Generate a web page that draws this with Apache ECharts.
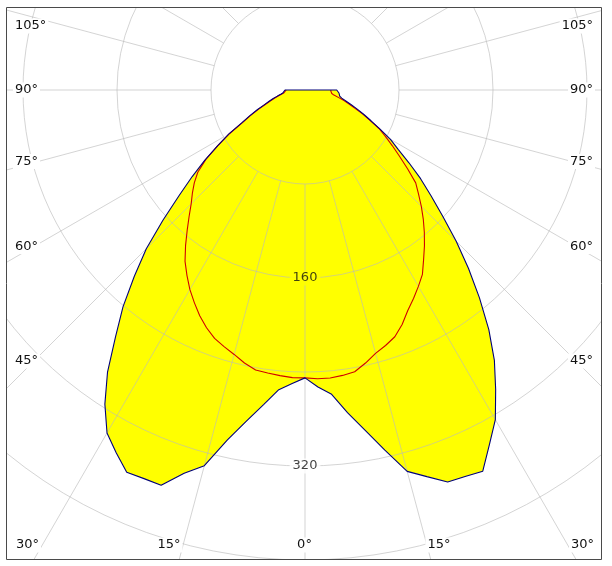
<!DOCTYPE html>
<html>
<head>
<meta charset="utf-8">
<script src="https://cdn.jsdelivr.net/npm/echarts@6/dist/echarts.min.js"></script>
<style>
html,body{margin:0;padding:0;background:#fff;}
#chart{width:612px;height:566px;}
</style>
</head>
<body>
<div id="chart"></div>
<script>
// Gamma angles (degrees from nadir)
const gammas = [0,2.5,5,7.5,10,12.5,15,17.5,20,22.5,25,27.5,30,32.5,35,37.5,40,42.5,45,47.5,50,52.5,55,57.5,60,62.5,65,67.5,70,72.5,75,77.5,80,82.5,85,87.5,90];
// C0 / C180 plane (yellow fill, blue outline) - right / left half
const planeC0   = [245,253,260,277,294,314,336,345,355,356,358,340,324,302,281,257,231,206,182,159,140,124,108,94,84,72,62,54,47,41,36,32,30,29,29,28.5,27];
const planeC180 = [245,250,256,270,286,305,331,342,358,358,359,348,337,317,293,265,241,215,191,164,140,121,104,88,75,61,52,44,37,32,28,24,21,19,18,17.5,17];
// C90 / C270 plane (red outline) - right / left half
const planeC90  = [245,246,246,245,243.5,238,232,228,223.5,216,207,200,193,186,176,167,158,149,140,131,123,110,98,88,79,71,61,53,45,39,34,29,25,23,22,22,22];
const planeC270 = [245,245,244,243,242,238,233,229,225,219,212,204,196,187,178,167,156,146,137,130,123,115,103,88,74,60,51,43,36,31,27,23,20,18,17,16.5,16];
// Grid
const radiusTicks = [80,160,240,320,400,480];
const radiusLabels = [160,320];
const spokeAngles = [];
for (let a = -180; a < 180; a += 15) spokeAngles.push(a);
// Angle labels around the frame
const sideLabels = [105,90,75,60,45];
const bottomLabels = [30,15,0,15,30];

const FONT = '"DejaVu Sans", Verdana, sans-serif';
const GRID = 'rgba(185,185,185,0.62)';

function buildCurve(right, left, closeAtCenter) {
  const pts = closeAtCenter ? [[0, -90]] : [];
  for (let i = gammas.length - 1; i >= 0; i--) pts.push([left[i], -gammas[i]]);
  for (let i = 1; i < gammas.length; i++) pts.push([right[i], gammas[i]]);
  if (closeAtCenter) pts.push([0, 90]);
  return pts;
}
const blueCurve = buildCurve(planeC0, planeC180, true);
const redCurve = buildCurve(planeC90, planeC270, false);

const chart = echarts.init(document.getElementById('chart'), null, {renderer: 'canvas'});

const spokeSeries = spokeAngles.map(a => ({
  type: 'line', coordinateSystem: 'polar', silent: true, z: 2,
  symbol: 'none', animation: false,
  lineStyle: {color: GRID, width: 1},
  data: [[radiusTicks[0], a], [radiusTicks[radiusTicks.length - 1], a]]
}));

// layout for frame labels (pixel layout, not data)
const sideY = [26, 90, 161.5, 246.5, 361];
const bottomX = [27.5, 169, 304.5, 439, 582.5];
const labelGraphics = [];
sideLabels.forEach((v, i) => {
  labelGraphics.push({type: 'text', z: 110, silent: true, style: {text: v + '°', x: 13, y: sideY[i], align: 'left', verticalAlign: 'middle', font: '13px ' + FONT, fill: '#111', backgroundColor: '#fff', padding: [1, 2]}});
  labelGraphics.push({type: 'text', z: 110, silent: true, style: {text: v + '°', x: 595, y: sideY[i], align: 'right', verticalAlign: 'middle', font: '13px ' + FONT, fill: '#111', backgroundColor: '#fff', padding: [1, 2]}});
});
bottomLabels.forEach((v, i) => {
  labelGraphics.push({type: 'text', z: 110, silent: true, style: {text: v + '°', x: bottomX[i], y: 545, align: 'center', verticalAlign: 'middle', font: '13px ' + FONT, fill: '#111', backgroundColor: '#fff', padding: [1, 2]}});
});

const option = {
  animation: false,
  backgroundColor: '#fff',
  polar: {center: [305, 90], radius: 564},
  angleAxis: {
    type: 'value', min: -180, max: 180, startAngle: 90, clockwise: false,
    axisLine: {show: false}, axisTick: {show: false}, axisLabel: {show: false},
    splitLine: {show: false}
  },
  radiusAxis: {
    type: 'value', min: 0, max: 480, interval: 80, z: 2,
    axisLine: {show: false}, axisTick: {show: false}, axisLabel: {show: false},
    splitLine: {show: true, lineStyle: {color: GRID, width: 1}}
  },
  series: [
    {
      name: 'fill', type: 'line', coordinateSystem: 'polar', z: 1, silent: true,
      symbol: 'none', data: blueCurve,
      lineStyle: {width: 0, opacity: 0},
      areaStyle: {color: '#ffff00', opacity: 1}
    },
    ...spokeSeries,
    {
      name: 'radius labels', type: 'scatter', coordinateSystem: 'polar', z: 3, silent: true,
      symbolSize: 1, itemStyle: {color: 'rgba(0,0,0,0)'},
      data: radiusLabels.map(v => ({
        value: [v, 0],
        label: {backgroundColor: v < planeC0[0] ? '#ffff00' : '#ffffff'}
      })),
      label: {show: true, position: 'inside', formatter: p => String(p.value[0]), color: '#111', fontSize: 13, fontFamily: FONT, padding: [1, 3]}
    },
    {
      name: 'C90-C270', type: 'line', coordinateSystem: 'polar', z: 4, silent: true,
      symbol: 'none', data: redCurve,
      lineStyle: {color: '#d00000', width: 1.1}
    },
    {
      name: 'C0-C180', type: 'line', coordinateSystem: 'polar', z: 5, silent: true,
      symbol: 'none', data: blueCurve,
      lineStyle: {color: '#00007a', width: 1.1}
    }
  ],
  graphic: [
    {type: 'rect', z: 100, silent: true, shape: {x: 0, y: 0, width: 612, height: 7}, style: {fill: '#fff'}},
    {type: 'rect', z: 100, silent: true, shape: {x: 0, y: 560, width: 612, height: 6}, style: {fill: '#fff'}},
    {type: 'rect', z: 100, silent: true, shape: {x: 0, y: 0, width: 6, height: 566}, style: {fill: '#fff'}},
    {type: 'rect', z: 100, silent: true, shape: {x: 602, y: 0, width: 10, height: 566}, style: {fill: '#fff'}},
    {type: 'rect', z: 101, silent: true, shape: {x: 6.5, y: 7.5, width: 595, height: 552}, style: {fill: 'none', stroke: '#4a4a4a', lineWidth: 1}},
    ...labelGraphics
  ]
};
chart.setOption(option);
</script>
</body>
</html>
